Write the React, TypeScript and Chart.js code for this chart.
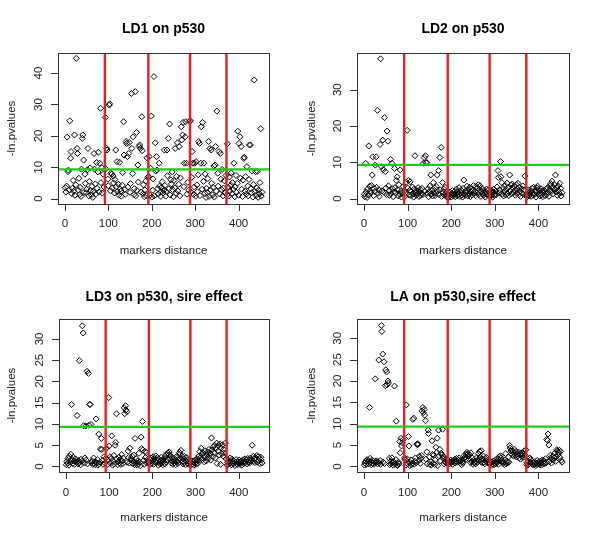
import React, { useEffect, useRef } from 'react';
import { Chart, registerables } from 'chart.js';

Chart.register(...registerables);

// marker positions (shared by the four analyses)
const markerX = [
  1, 2, 4, 5, 7, 8, 10, 11, 13, 14, 16, 17, 19, 20, 22, 23, 25, 26, 28, 29,
  31, 32, 34, 35, 37, 38, 40, 41, 43, 44, 46, 47, 49, 50, 52, 53, 55, 56, 58, 59,
  61, 62, 64, 65, 67, 68, 70, 71, 73, 74, 76, 77, 79, 80, 82, 83, 85, 86, 88, 90,
  93, 94, 96, 97, 99, 100, 102, 103, 105, 106, 108, 109, 111, 112, 114, 115, 117, 118, 120, 121,
  123, 124, 126, 127, 129, 130, 132, 133, 135, 136, 138, 139, 141, 142, 144, 145, 147, 148, 150, 151,
  153, 154, 156, 157, 159, 160, 162, 163, 165, 166, 168, 169, 171, 172, 174, 175, 177, 178, 180, 181,
  183, 184, 186, 187, 189, 191,
  193, 194, 196, 197, 199, 200, 202, 203, 205, 206, 208, 209, 211, 212, 214, 215, 217, 218, 220, 221,
  223, 224, 226, 227, 229, 230, 232, 233, 235, 236, 238, 239, 241, 242, 244, 245, 247, 248, 250, 251,
  253, 254, 256, 257, 259, 260, 262, 263, 265, 266, 268, 269, 271, 272, 274, 275, 277, 278, 280, 281,
  283, 285, 287,
  289, 290, 292, 293, 295, 296, 298, 299, 301, 302, 304, 305, 307, 308, 310, 311, 313, 314, 316, 317,
  319, 320, 322, 323, 325, 326, 328, 329, 331, 332, 334, 335, 337, 338, 340, 341, 343, 344, 346, 347,
  349, 350, 352, 353, 355, 356, 358, 359, 361, 362, 364, 365, 367, 369, 371,
  373, 374, 376, 377, 379, 380, 382, 383, 385, 386, 388, 389, 391, 392, 394, 395, 397, 398, 400, 401,
  403, 404, 406, 407, 409, 410, 412, 413, 415, 416, 418, 419, 421, 422, 424, 425, 427, 428, 430, 431,
  433, 434, 436, 437, 439, 440, 442, 443, 445, 446, 448, 449, 451, 452, 454,
];

const ld1Values = [
  3.5, 2.1, 4.0, 19.6, 8.6, 9.1, 2.8, 24.8, 12.9, 15.0, 1.6, 3.3, 5.8, 2.4, 20.3, 1.1, 4.4, 44.7, 16.0, 14.4,
  2.7, 6.5, 1.3, 3.6, 0.7, 9.4, 19.2, 20.3, 12.3, 2.0, 7.8, 4.9, 1.9, 3.0, 9.2, 16.0, 0.9, 5.5, 9.8, 2.6,
  1.2, 3.9, 0.4, 2.3, 14.4, 9.4, 4.7, 1.5, 11.5, 3.3, 8.5, 14.8, 2.1, 11.3, 28.8, 5.1, 9.9, 1.8, 7.8, 3.7,
  25.9, 9.5, 16.0, 15.5, 6.2, 4.1, 29.8, 30.2, 2.5, 8.1, 7.8, 3.4, 7.2, 5.0, 1.8, 6.1, 15.5, 3.8, 11.8, 2.2,
  4.6, 1.1, 11.6, 3.0, 2.4, 0.8, 4.3, 8.3, 24.5, 13.9, 2.9, 1.4, 18.2, 17.6, 13.4, 3.7, 14.4, 17.9, 2.0, 4.8,
  33.5, 16.0, 8.0, 19.7, 1.3, 3.2, 34.1, 0.9, 21.1, 2.6, 10.7, 5.3, 16.6, 17.1, 16.0, 2.1, 26.1, 15.3, 1.6, 4.4,
  0.6, 2.8, 5.6, 1.0, 13.0, 6.8,
  7.0, 13.4, 1.1, 9.7, 26.3, 0.5, 2.7, 6.3, 38.9, 0.9, 17.8, 8.8, 13.4, 9.1, 3.2, 1.5, 11.3, 4.0, 2.1, 0.7,
  3.6, 5.4, 1.8, 2.6, 15.5, 4.2, 0.8, 2.3, 15.5, 7.3, 19.2, 3.1, 23.8, 1.2, 6.0, 4.7, 8.5, 2.9, 0.6, 5.8,
  3.4, 16.0, 1.7, 7.1, 17.8, 2.5, 4.6, 16.6, 0.9, 6.6, 22.9, 18.7, 20.3, 24.3, 3.8, 11.3, 19.7, 24.5, 11.3, 1.4,
  5.2, 2.7, 24.7,
  24.8, 2.1, 6.8, 15.0, 11.3, 1.3, 3.7, 11.3, 0.8, 11.8, 4.4, 2.2, 7.6, 18.2, 17.6, 1.0, 11.3, 22.9, 3.0, 24.3,
  5.5, 11.3, 1.7, 7.9, 0.4, 3.3, 2.0, 6.4, 18.2, 0.7, 16.0, 2.8, 15.5, 4.9, 1.2, 3.6, 10.4, 0.5, 10.7, 16.6,
  2.4, 27.9, 8.1, 4.0, 15.0, 1.5, 14.4, 6.2, 2.9, 9.3, 0.9, 3.4, 5.7, 1.8, 7.4,
  1.2, 17.5, 3.6, 0.8, 6.9, 2.5, 4.3, 8.2, 1.6, 5.1, 2.9, 11.3, 0.6, 3.8, 7.4, 2.0, 4.9, 21.5, 1.1, 17.6,
  19.7, 6.5, 16.6, 3.0, 0.7, 5.9, 12.8, 13.2, 2.4, 7.0, 1.5, 10.2, 4.0, 0.9, 6.1, 17.1, 17.1, 3.2, 1.9, 8.8,
  0.5, 4.5, 37.8, 2.2, 8.6, 1.0, 3.4, 8.7, 0.4, 2.7, 1.6, 5.1, 22.3, 0.8, 2.0,
];

const ld2Values = [
  1.2, 0.5, 9.7, 1.8, 0.3, 2.6, 1.0, 14.5, 3.4, 2.0, 1.5, 3.6, 6.5, 11.5, 0.8, 2.8, 1.9, 9.2, 11.5, 3.1,
  24.3, 1.4, 2.4, 0.6, 14.9, 38.5, 8.8, 2.1, 16.1, 8.0, 1.7, 22.3, 7.4, 2.9, 1.1, 18.6, 15.8, 3.5, 0.9, 2.2,
  10.8, 1.3, 9.7, 2.7, 0.5, 1.8, 8.3, 3.0, 1.6, 5.0, 6.0, 2.4, 0.7, 3.8, 1.2, 7.9, 2.0, 0.4, 1.5, 3.3,
  2.1, 0.6, 1.4, 4.5, 18.8, 2.9, 5.0, 1.0, 2.3, 4.6, 0.8, 1.9, 3.2, 1.2, 0.4, 2.6, 11.8, 1.7, 0.9, 2.2,
  1.3, 3.0, 0.6, 1.8, 2.5, 0.9, 1.5, 2.8, 1.1, 9.7, 11.3, 2.0, 11.8, 9.9, 9.9, 1.4, 2.7, 0.5, 1.9, 3.4,
  6.5, 1.2, 2.3, 0.7, 4.4, 1.6, 2.9, 0.8, 1.5, 3.3, 6.5, 2.0, 7.7, 1.1, 11.3, 2.4, 14.1, 0.6, 4.4, 1.7,
  2.6, 0.9, 3.1, 1.4, 0.5, 1.0,
  0.3, 1.1, 0.6, 1.8, 0.9, 0.4, 1.5, 2.2, 0.7, 1.2, 2.0, 0.5, 1.4, 2.6, 0.8, 1.9, 1.1, 3.0, 0.6, 1.6,
  2.3, 1.0, 0.4, 2.8, 5.1, 1.3, 0.9, 2.1, 1.7, 3.4, 0.7, 2.5, 1.2, 3.1, 0.5, 1.8, 2.7, 1.0, 2.2, 3.6,
  1.4, 2.0, 0.8, 3.3, 1.6, 2.9, 3.8, 1.1, 2.4, 3.5, 0.6, 1.9, 2.7, 1.3, 0.9, 2.2, 1.5, 0.4, 1.8, 2.6,
  1.0, 2.3, 0.7,
  1.5, 0.6, 2.2, 1.0, 0.4, 1.8, 2.6, 0.9, 1.3, 2.0, 1.1, 3.2, 7.7, 5.8, 1.6, 2.4, 10.2, 6.0, 4.4, 1.2,
  2.8, 0.7, 1.9, 3.6, 1.0, 2.5, 4.3, 1.4, 3.0, 0.8, 6.5, 2.1, 3.7, 1.3, 4.0, 2.9, 1.7, 3.4, 2.3, 0.9,
  3.8, 1.5, 2.6, 4.2, 1.1, 3.1, 2.0, 0.6, 2.7, 1.6, 3.5, 1.2, 2.4, 6.2, 0.8,
  1.0, 0.5, 1.7, 2.4, 0.8, 1.3, 2.0, 0.6, 2.8, 1.5, 0.9, 3.1, 1.2, 2.2, 0.4, 1.8, 2.9, 3.4, 1.1, 2.5,
  0.7, 1.6, 2.7, 1.0, 2.1, 0.5, 1.4, 2.3, 0.8, 1.9, 2.6, 1.1, 3.0, 1.7, 0.6, 2.4, 3.6, 4.1, 2.0, 4.8,
  3.2, 1.3, 3.9, 2.5, 6.5, 1.8, 2.9, 0.9, 3.5, 2.2, 1.4, 4.2, 2.8, 0.7, 1.6,
];

const ld3Values = [
  0.4, 1.2, 0.8, 1.9, 0.3, 2.4, 1.0, 2.9, 14.6, 1.6, 0.7, 2.2, 1.3, 0.5, 1.8, 1.1, 0.9, 12.0, 0.6, 1.4,
  24.9, 1.0, 0.4, 1.7, 1.2, 33.1, 31.4, 9.6, 0.8, 2.0, 9.5, 1.5, 22.4, 0.6, 21.9, 9.7, 14.6, 14.6, 9.9, 0.9,
  1.3, 0.5, 2.0, 0.7, 1.1, 0.4, 11.2, 0.9, 1.6, 0.3, 7.6, 0.6, 1.0, 4.1, 6.6, 4.0, 1.4, 0.5, 2.3, 0.8,
  2.0, 4.3, 1.5, 0.5, 16.2, 4.8, 2.3, 0.8, 1.9, 7.2, 0.3, 1.2, 2.6, 0.6, 5.0, 5.7, 12.4, 1.8, 0.4, 1.1,
  2.2, 0.9, 1.6, 0.5, 2.8, 1.3, 0.7, 2.0, 13.8, 12.4, 14.3, 13.3, 12.9, 1.0, 3.6, 2.1, 0.8, 4.3, 1.5, 1.9,
  2.4, 0.7, 1.2, 2.7, 0.4, 6.6, 0.9, 1.8, 0.3, 1.3, 0.6, 3.1, 1.0, 0.2, 6.9, 4.2, 10.6, 3.9, 1.4, 0.5,
  3.5, 2.1, 3.3, 0.8, 1.6, 0.9,
  1.0, 0.4, 1.6, 2.0, 0.7, 1.3, 2.3, 0.5, 1.8, 1.1, 2.5, 0.8, 1.4, 2.1, 0.3, 1.7, 1.0, 0.6, 1.5, 2.2,
  0.9, 0.4, 1.2, 1.8, 0.6, 2.4, 1.1, 2.9, 1.6, 3.2, 2.7, 3.4, 1.9, 2.6, 0.8, 1.3, 2.0, 0.5, 1.4, 0.9,
  1.7, 0.4, 2.3, 1.1, 0.7, 1.5, 2.8, 3.3, 1.9, 3.8, 2.5, 1.2, 0.6, 1.8, 2.4, 0.9, 0.4, 1.3, 2.1, 0.7,
  1.5, 0.5, 1.1,
  0.9, 0.4, 1.3, 0.6, 1.0, 0.3, 1.5, 0.8, 0.5, 1.2, 1.8, 0.7, 2.4, 1.4, 3.5, 2.0, 4.3, 2.9, 1.6, 3.2,
  2.5, 1.1, 3.7, 2.2, 1.3, 2.8, 3.4, 1.9, 4.0, 2.6, 3.1, 1.5, 6.7, 3.9, 2.3, 4.6, 3.3, 5.0, 2.0, 4.2,
  5.5, 0.7, 3.6, 4.9, 2.7, 5.3, 0.5, 4.4, 3.0, 5.1, 2.4, 4.0, 3.2, 5.5, 1.8,
  0.3, 1.0, 0.5, 1.4, 0.8, 2.0, 1.2, 0.4, 1.7, 0.9, 0.6, 1.3, 0.2, 1.0, 1.6, 0.7, 0.4, 1.1, 0.8, 1.5,
  0.5, 0.9, 1.3, 0.3, 1.0, 1.6, 0.7, 1.2, 1.8, 0.9, 1.4, 0.6, 1.9, 1.1, 1.5, 0.8, 2.0, 1.3, 1.6, 5.0,
  1.2, 2.4, 1.7, 0.9, 2.1, 1.6, 2.6, 1.0, 2.3, 1.4, 1.9, 0.7, 2.2, 1.5, 0.8,
];

const laValues = [
  0.3, 0.8, 1.2, 0.5, 1.6, 0.9, 1.4, 0.6, 13.8, 1.9, 1.1, 0.4, 1.5, 0.7, 1.2, 0.5, 0.9, 20.5, 1.3, 1.0,
  0.6, 1.1, 24.9, 0.8, 1.4, 0.5, 33.0, 31.6, 26.3, 1.0, 24.5, 0.7, 18.9, 22.6, 22.1, 19.1, 20.0, 19.5, 1.9, 0.4,
  1.2, 0.6, 2.0, 0.9, 0.3, 1.1, 18.8, 0.5, 1.6, 10.6, 0.4, 0.2, 1.0, 0.6, 5.8, 3.2, 6.6, 4.8, 5.5, 6.3,
  2.0, 1.6, 0.3, 14.4, 1.8, 0.6, 7.0, 4.8, 0.2, 0.9, 1.5, 0.4, 0.8, 11.0, 11.3, 0.5, 1.2, 2.0, 0.9, 5.2,
  5.1, 5.3, 1.4, 2.4, 0.7, 1.9, 2.6, 13.0, 13.8, 12.6, 13.3, 12.0, 10.7, 1.7, 3.4, 0.6, 8.5, 7.7, 2.2, 0.5,
  1.1, 0.3, 6.0, 2.8, 0.8, 2.7, 0.4, 1.5, 4.5, 3.2, 6.6, 0.2, 8.5, 2.5, 4.0, 1.3, 3.1, 2.7, 8.7, 1.9,
  2.3, 0.6, 1.0, 1.7, 0.9, 1.4,
  0.8, 1.3, 0.6, 1.0, 1.5, 0.9, 1.2, 0.5, 1.4, 1.1, 1.7, 0.8, 1.3, 1.9, 1.0, 1.6, 1.4, 2.0, 1.2, 0.7,
  1.5, 0.4, 1.1, 0.9, 1.8, 2.6, 2.2, 1.6, 2.9, 3.3, 2.4, 3.0, 1.7, 2.7, 0.9, 3.2, 1.2, 2.0, 0.5, 1.4,
  0.8, 1.0, 0.6, 1.3, 2.1, 0.9, 3.0, 1.5, 3.5, 2.2, 1.1, 3.7, 1.8, 0.8, 2.4, 1.0, 0.6, 1.9, 1.2, 2.1,
  0.9, 1.5, 0.7,
  1.3, 0.7, 0.3, 1.0, 0.5, 1.2, 0.4, 0.8, 1.5, 0.6, 1.1, 0.9, 1.8, 0.5, 2.3, 1.4, 2.5, 2.0, 1.6, 1.2,
  0.7, 1.0, 0.4, 1.5, 3.0, 0.6, 1.2, 0.8, 2.2, 1.0, 4.9, 4.3, 3.6, 4.0, 2.8, 3.5, 2.4, 4.0, 3.1, 2.6,
  3.5, 2.2, 2.9, 2.5, 3.3, 2.0, 2.8, 1.7, 3.2, 2.4, 3.0, 2.1, 3.6, 2.6, 3.9,
  0.4, 0.9, 0.3, 1.2, 0.6, 2.0, 1.6, 0.8, 1.3, 0.5, 0.9, 0.3, 1.1, 0.6, 0.2, 0.8, 1.4, 0.5, 1.0, 0.7,
  0.4, 1.2, 0.8, 0.3, 1.5, 0.9, 0.6, 1.3, 0.7, 1.8, 0.9, 6.3, 6.1, 7.6, 5.0, 1.1, 2.6, 2.0, 0.8, 1.7,
  2.4, 1.5, 2.0, 3.1, 1.2, 2.3, 3.9, 3.6, 2.7, 3.3, 3.8, 2.1, 3.5, 1.4, 1.0,
];

const xTickValues = [0, 100, 200, 300, 400];
const yTicksLD1 = [0, 10, 20, 30, 40];
const yTicksLD2 = [0, 10, 20, 30];
const yTicksSire = [0, 5, 10, 15, 20, 25, 30];
const boundaryPositions = [92, 192, 288, 372];
const thresholdValue = 9.3;

const FONT = '"Liberation Sans", Arial, Helvetica, sans-serif';

type PanelCfg = {
  title: string;
  ys: number[];
  yTicks: number[];
  yMin: number;
  yMax: number;
  left: number;
  top: number;
  w: number;
  h: number;
  area: { l: number; r: number; t: number; b: number };
  titleY: number;
  tickGap: number;
  xlabGap: number;
  ylabX: number;
};

const panels: PanelCfg[] = [
  { title: 'LD1 on p530', ys: ld1Values, yTicks: yTicksLD1, yMin: -1.7, yMax: 46.4, left: 0, top: 0, w: 300, h: 272,
    area: { l: 58, r: 269, t: 53, b: 204 }, titleY: 29, tickGap: 20, xlabGap: 47, ylabX: 12 },
  { title: 'LD2 on p530', ys: ld2Values, yTicks: yTicksLD2, yMin: -1.5, yMax: 40.1, left: 300, top: 0, w: 300, h: 272,
    area: { l: 57, r: 269, t: 53, b: 204 }, titleY: 29, tickGap: 20, xlabGap: 47, ylabX: 12 },
  { title: 'LD3 on p530, sire effect', ys: ld3Values, yTicks: yTicksSire, yMin: -1.3, yMax: 34.7, left: 0, top: 272, w: 300, h: 273,
    area: { l: 59, r: 269, t: 47, b: 200 }, titleY: 25, tickGap: 21, xlabGap: 46, ylabX: 12 },
  { title: 'LA on p530,sire effect', ys: laValues, yTicks: yTicksSire, yMin: -1.3, yMax: 34.5, left: 300, top: 272, w: 300, h: 273,
    area: { l: 57, r: 269, t: 47, b: 200 }, titleY: 25, tickGap: 21, xlabGap: 46, ylabX: 12 },
];

function makeFramePlugin(p: PanelCfg) {
  return {
    id: 'rframe',
    afterDraw(chart: any) {
      const { ctx, chartArea: a, scales } = chart;
      const xs = scales.x;
      const ys = scales.y;
      ctx.save();
      ctx.strokeStyle = '#333';
      ctx.lineWidth = 1;
      ctx.strokeRect(Math.round(a.left) + 0.5, Math.round(a.top) + 0.5,
        Math.round(a.right - a.left), Math.round(a.bottom - a.top));
      ctx.beginPath();
      for (const v of xTickValues) {
        const px = Math.round(xs.getPixelForValue(v)) + 0.5;
        ctx.moveTo(px, a.bottom);
        ctx.lineTo(px, a.bottom + 7);
      }
      for (const v of p.yTicks) {
        const py = Math.round(ys.getPixelForValue(v)) + 0.5;
        ctx.moveTo(a.left, py);
        ctx.lineTo(a.left - 7, py);
      }
      ctx.stroke();

      ctx.fillStyle = '#222';
      ctx.font = `11.5px ${FONT}`;
      ctx.textAlign = 'center';
      ctx.textBaseline = 'middle';
      for (const v of xTickValues) {
        ctx.fillText(String(v), xs.getPixelForValue(v), a.bottom + p.tickGap);
      }
      for (const v of p.yTicks) {
        ctx.save();
        ctx.translate(a.left - 19, ys.getPixelForValue(v));
        ctx.rotate(-Math.PI / 2);
        ctx.fillText(String(v), 0, 0);
        ctx.restore();
      }
      ctx.fillText('markers distance', (a.left + a.right) / 2, a.bottom + p.xlabGap);
      ctx.save();
      ctx.translate(p.ylabX, (a.top + a.bottom) / 2);
      ctx.rotate(-Math.PI / 2);
      ctx.fillText('-ln.pvalues', 0, 0);
      ctx.restore();

      ctx.fillStyle = '#000';
      ctx.font = `bold 14px ${FONT}`;
      ctx.fillText(p.title, (a.left + a.right) / 2, p.titleY);
      ctx.restore();
    },
  };
}

function Panel({ p }: { p: PanelCfg }) {
  const ref = useRef<HTMLCanvasElement>(null);
  useEffect(() => {
    if (!ref.current) return;
    const points = markerX.map((x, i) => ({ x, y: p.ys[i] }));
    const datasets: any[] = [
      {
        type: 'line',
        data: [{ x: -100, y: thresholdValue }, { x: 1000, y: thresholdValue }],
        borderColor: '#22c822',
        borderWidth: 2.2,
        pointRadius: 0,
        showLine: true,
        order: 0,
      },
      ...boundaryPositions.map((bx) => ({
        type: 'line',
        data: [{ x: bx, y: -1000 }, { x: bx, y: 1000 }],
        borderColor: '#ee1c1c',
        borderWidth: 2.4,
        pointRadius: 0,
        showLine: true,
        order: 1,
      })),
      {
        type: 'scatter',
        data: points,
        pointStyle: 'rectRot',
        pointRadius: 3,
        borderColor: '#000',
        borderWidth: 1,
        backgroundColor: 'rgba(0,0,0,0)',
        order: 2,
      },
    ];
    const chart = new Chart(ref.current, {
      type: 'scatter',
      data: { datasets },
      options: {
        responsive: false,
        animation: false,
        devicePixelRatio: 1,
        events: [],
        layout: {
          padding: { left: p.area.l, right: p.w - p.area.r, top: p.area.t, bottom: p.h - p.area.b },
        },
        plugins: { legend: { display: false }, tooltip: { enabled: false }, title: { display: false } },
        scales: {
          x: { type: 'linear', min: -16, max: 470, display: false },
          y: { type: 'linear', min: p.yMin, max: p.yMax, display: false },
        },
      } as any,
      plugins: [makeFramePlugin(p)],
    });
    return () => chart.destroy();
  }, [p]);
  return (
    <canvas
      ref={ref}
      width={p.w}
      height={p.h}
      style={{ position: 'absolute', left: p.left, top: p.top, width: p.w, height: p.h, display: 'block' }}
    />
  );
}

export default function App() {
  return (
    <div style={{ position: 'absolute', left: 0, top: 0, width: 600, height: 545, background: '#fff', overflow: 'hidden' }}>
      {panels.map((p) => (
        <Panel key={p.title} p={p} />
      ))}
    </div>
  );
}
